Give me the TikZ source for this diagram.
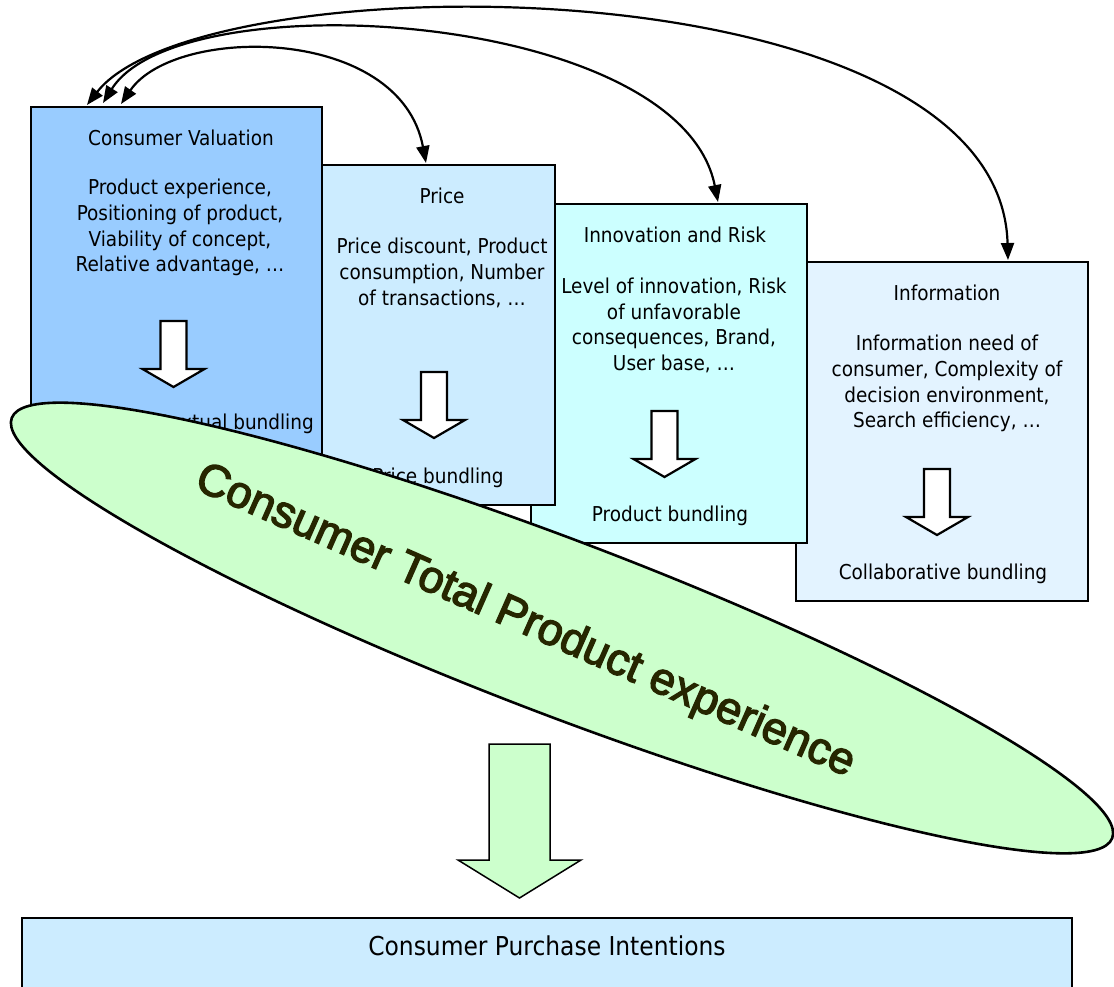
\documentclass[tikz,border=0pt]{standalone}
\usepackage{fontspec}
\setmainfont{DejaVu Sans Condensed}
\newfontfamily\bigfont[FakeBold=3]{Liberation Sans}
\usetikzlibrary{arrows.meta}
\definecolor{cvblue}{HTML}{99CCFF}
\definecolor{priceblue}{HTML}{CCECFF}
\definecolor{innocyan}{HTML}{CCFFFF}
\definecolor{infoblue}{HTML}{E3F3FF}
\definecolor{paleg}{HTML}{CCFFCC}
\definecolor{olive}{HTML}{262600}
\newcommand\dnarrow[2]{% x centre, y top
  \draw[hollow] (#1-13,#2) -- (#1+13,#2) -- (#1+13,#2+48) -- (#1+31,#2+48) -- (#1,#2+66) -- (#1-31,#2+48) -- (#1-13,#2+48) -- cycle;}
\tikzset{
  box/.style={draw=black, line width=2.8pt, rectangle, inner sep=0pt},
  txt/.style={font=\fontsize{20.5}{25.7}\selectfont, align=center, inner sep=0pt},
  link/.style={line width=2.2pt, {Triangle[length=17pt,width=13pt]}-{Triangle[length=17pt,width=13pt]}},
  hollow/.style={draw=black, fill=white, line width=2.2pt, line join=miter},
}
\begin{document}
\begin{tikzpicture}[x=1pt,y=-1pt]
\useasboundingbox (0,0) rectangle (1114,987);
\fill[white] (0,0) rectangle (1114,987);
% Information
\node[box, fill=infoblue, minimum width=292pt, minimum height=339pt] (info) at (942,431.5) {};
\node[txt] (infot) at (947,293) {Information};
\node[txt] (infob) at (947,383.5) {Information need of\\consumer, Complexity of\\decision environment,\\Search efficiency, \dots};
\dnarrow{937}{469}
\node[txt] (infol) at (943,574) {Collaborative bundling};
% Innovation
\node[box, fill=innocyan, minimum width=276pt, minimum height=339pt] (inno) at (669,373.5) {};
\node[txt] (innot) at (675,235) {Innovation and Risk};
\node[txt] (innob) at (674,325.5) {Level of innovation, Risk\\of unfavorable\\consequences, Brand,\\User base, \dots};
\dnarrow{664.5}{411}
\node[txt] (innol) at (670,516) {Product bundling};
% Price
\node[box, fill=priceblue, minimum width=242pt, minimum height=340pt] (price) at (434,335) {};
\node[txt] (pricet) at (442,196) {Price};
\node[txt] (priceb) at (442,273) {Price discount, Product\\consumption, Number\\of transactions, \dots};
\dnarrow{434}{372}
\node[txt] (pricel) at (438,478) {Price bundling};
% Consumer valuation
\node[box, fill=cvblue, minimum width=291pt, minimum height=348pt] (cv) at (176.5,281) {};
\node[txt] (cvt) at (181,138) {Consumer Valuation};
\node[txt] (cvb) at (180,227.5) {Product experience,\\Positioning of product,\\Viability of concept,\\Relative advantage, \dots};
\dnarrow{173.5}{321}
\node[txt, anchor=east] (cvl) at (314,424) {Contextual bundling};
% Ellipse
\draw[fill=paleg, line width=2.6pt, rotate around={-20.9:(562,628)}] (562,628) ellipse [x radius=589, y radius=87];
\node[rotate=-23.8, font=\bigfont\fontsize{45}{48}\selectfont, text=olive, inner sep=0pt] (ctpe) at (525,622) {Consumer Total Product experience};
% green arrow
\draw[fill=paleg, line width=1.5pt, line join=miter] (489,744) -- (550,744) -- (550,860) -- (581,860) -- (519.5,898) -- (458,860) -- (489,860) -- cycle;
% bottom box
\node[box, fill=priceblue, minimum width=1050pt, minimum height=90pt] (cpi) at (547,963) {};
\node[txt, font=\fontsize{26}{30}\selectfont] (cpit) at (547,946) {Consumer Purchase Intentions};
% links
\coordinate (a1) at (121,104);
\coordinate (a2) at (103,103);
\coordinate (a3) at (87,105);
\coordinate (b1) at (426,163);
\coordinate (b2) at (718,202);
\coordinate (b3) at (1008,260);
\draw[link] (a1) .. controls (175,25) and (400,25) .. (b1);
\draw[link] (a2) .. controls (180,-20) and (680,10) .. (b2);
\draw[link] (a3) .. controls (200,-40) and (1000,-40) .. (b3);
\end{tikzpicture}
\end{document}
